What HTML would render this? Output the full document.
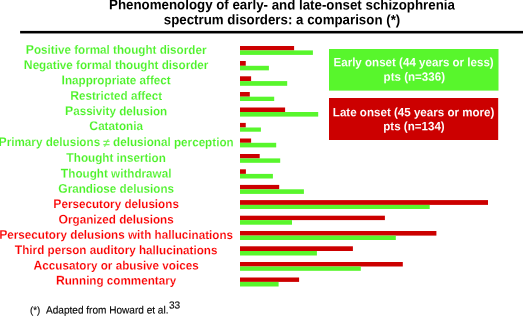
<!DOCTYPE html>
<html><head><meta charset="utf-8"><style>
html,body{margin:0;padding:0;background:#fff;}
body{width:523px;height:316px;overflow:hidden;position:relative;}
svg{position:absolute;left:0;top:0;display:block;}
text{font-family:"Liberation Sans",Arial,sans-serif;text-rendering:geometricPrecision;}
.t{font-weight:bold;font-size:13.3px;fill:#000;}
.l{font-weight:bold;font-size:11.68px;stroke:#fff;stroke-width:0.14px;}
.cap{font-size:12.2px;}
.lg{fill:#4af226;}
.lr{fill:#fa0000;}
.ne{stroke:none;fill-opacity:0.75;}
.k{font-weight:bold;font-size:11.58px;fill:#fff;stroke-width:0.04px;}
.kg{stroke:#58f62c;}
.kr{stroke:#cc0000;}
.f{font-size:10.07px;fill:#000;stroke:#000;stroke-width:0.12px;}
</style></head><body>
<svg width="523" height="316" viewBox="0 0 523 316">

<text class="t" transform="translate(282 9.40) skewY(0.05) scale(1 1.045)" text-anchor="middle">Phenomenology of early- and late-onset schizophrenia</text>
<text class="t" transform="translate(282 24.30) skewY(0.05) scale(1 1.04)" text-anchor="middle">spectrum disorders: a comparison (*)</text>
<rect x="20.1" y="30.9" width="503" height="2.2" fill="#000"/>
<rect x="20.1" y="33.1" width="503" height="0.8" fill="#777"/>
<rect x="240" y="46.00" width="54.10" height="4.40" fill="#cc0000"/>
<rect x="240" y="50.40" width="72.90" height="4.50" fill="#58f62c"/>
<text class="l lg" transform="translate(116.1 53.82) skewY(0.05) scale(1 1.035)" text-anchor="middle"><tspan class="cap">P</tspan>ositive formal thought disorder</text>
<rect x="240" y="61.00" width="5.75" height="4.80" fill="#cc0000"/>
<rect x="240" y="65.80" width="28.90" height="4.55" fill="#58f62c"/>
<text class="l lg" transform="translate(116.1 69.04) skewY(0.05) scale(1 1.035)" text-anchor="middle"><tspan class="cap">N</tspan>egative formal thought disorder</text>
<rect x="240" y="76.30" width="11.10" height="4.80" fill="#cc0000"/>
<rect x="240" y="81.10" width="47.20" height="4.70" fill="#58f62c"/>
<text class="l lg" transform="translate(116.1 84.19) skewY(0.05) scale(1 1.035)" text-anchor="middle"><tspan class="cap">I</tspan>nappropriate affect</text>
<rect x="240" y="92.00" width="9.80" height="4.70" fill="#cc0000"/>
<rect x="240" y="96.70" width="34.20" height="4.30" fill="#58f62c"/>
<text class="l lg" transform="translate(116.1 99.84) skewY(0.05) scale(1 1.035)" text-anchor="middle"><tspan class="cap">R</tspan>estricted affect</text>
<rect x="240" y="107.50" width="45.10" height="4.50" fill="#cc0000"/>
<rect x="240" y="112.00" width="78.20" height="4.60" fill="#58f62c"/>
<text class="l lg" transform="translate(116.1 115.13) skewY(0.05) scale(1 1.035)" text-anchor="middle"><tspan class="cap">P</tspan>assivity delusion</text>
<rect x="240" y="122.90" width="5.75" height="4.60" fill="#cc0000"/>
<rect x="240" y="127.50" width="20.90" height="4.20" fill="#58f62c"/>
<text class="l lg" transform="translate(116.1 130.10) skewY(0.05) scale(1 1.035)" text-anchor="middle"><tspan class="cap">C</tspan>atatonia</text>
<rect x="240" y="138.50" width="11.10" height="4.30" fill="#cc0000"/>
<rect x="240" y="142.80" width="36.20" height="4.60" fill="#58f62c"/>
<text class="l lg" transform="translate(116.1 146.08) skewY(0.05) scale(1 1.035)" text-anchor="middle"><tspan class="cap">P</tspan>rimary delusions <tspan class="ne" dy="1">≠</tspan><tspan dy="-1"> delusional perception</tspan></text>
<rect x="240" y="154.00" width="19.70" height="4.40" fill="#cc0000"/>
<rect x="240" y="158.40" width="40.20" height="4.40" fill="#58f62c"/>
<text class="l lg" transform="translate(116.1 161.85) skewY(0.05) scale(1 1.035)" text-anchor="middle"><tspan class="cap">T</tspan>hought insertion</text>
<rect x="240" y="169.30" width="5.90" height="4.60" fill="#cc0000"/>
<rect x="240" y="173.90" width="32.90" height="4.60" fill="#58f62c"/>
<text class="l lg" transform="translate(116.1 177.49) skewY(0.05) scale(1 1.035)" text-anchor="middle"><tspan class="cap">T</tspan>hought withdrawal</text>
<rect x="240" y="184.90" width="39.20" height="4.40" fill="#cc0000"/>
<rect x="240" y="189.30" width="63.90" height="4.60" fill="#58f62c"/>
<text class="l lg" transform="translate(116.1 192.79) skewY(0.05) scale(1 1.035)" text-anchor="middle"><tspan class="cap">G</tspan>randiose delusions</text>
<rect x="240" y="200.10" width="248.00" height="4.80" fill="#cc0000"/>
<rect x="240" y="204.90" width="189.70" height="4.10" fill="#58f62c"/>
<text class="l lr" transform="translate(116.1 208.04) skewY(0.05) scale(1 1.035)" text-anchor="middle"><tspan class="cap">P</tspan>ersecutory delusions</text>
<rect x="240" y="215.70" width="144.90" height="4.40" fill="#cc0000"/>
<rect x="240" y="220.10" width="52.00" height="4.60" fill="#58f62c"/>
<text class="l lr" transform="translate(116.1 223.58) skewY(0.05) scale(1 1.035)" text-anchor="middle"><tspan class="cap">O</tspan>rganized delusions</text>
<rect x="240" y="231.00" width="196.40" height="4.60" fill="#cc0000"/>
<rect x="240" y="235.60" width="155.80" height="4.40" fill="#58f62c"/>
<text class="l lr" transform="translate(116.1 238.81) skewY(0.05) scale(1 1.035)" text-anchor="middle"><tspan class="cap">P</tspan>ersecutory delusions with hallucinations</text>
<rect x="240" y="246.30" width="112.90" height="4.70" fill="#cc0000"/>
<rect x="240" y="251.00" width="76.90" height="4.50" fill="#58f62c"/>
<text class="l lr" transform="translate(116.1 254.10) skewY(0.05) scale(1 1.035)" text-anchor="middle"><tspan class="cap">T</tspan>hird person auditory hallucinations</text>
<rect x="240" y="262.00" width="162.80" height="4.50" fill="#cc0000"/>
<rect x="240" y="266.50" width="120.80" height="4.30" fill="#58f62c"/>
<text class="l lr" transform="translate(116.1 269.45) skewY(0.05) scale(1 1.035)" text-anchor="middle"><tspan class="cap">A</tspan>ccusatory or abusive voices</text>
<rect x="240" y="277.50" width="59.10" height="4.40" fill="#cc0000"/>
<rect x="240" y="281.90" width="38.60" height="4.60" fill="#58f62c"/>
<text class="l lr" transform="translate(116.1 284.50) skewY(0.05) scale(1 1.035)" text-anchor="middle"><tspan class="cap">R</tspan>unning commentary</text>
<rect x="329" y="49" width="169.5" height="41.6" fill="#58f62c"/>
<rect x="329" y="98" width="169.2" height="42" fill="#cc0000"/>
<text class="k kg" transform="translate(413.6 66.30) skewY(0.05) scale(1 1.04)" text-anchor="middle">Early onset (44 years or less)</text>
<text class="k kg" transform="translate(414.3 80.70) skewY(0.05) scale(1 1.04)" text-anchor="middle">pts (n=336)</text>
<text class="k kr" transform="translate(413.6 116.30) skewY(0.05) scale(1 1.04)" text-anchor="middle">Late onset (45 years or more)</text>
<text class="k kr" transform="translate(414.0 130.20) skewY(0.05) scale(1 1.04)" text-anchor="middle">pts (n=134)</text>
<text class="f" transform="translate(29.9 313.50) skewY(0.05) scale(1 1.04)" text-anchor="start" style="font-size:9.7px">(*)</text>
<text class="f" transform="translate(46.0 313.50) skewY(0.05) scale(1 1.04)" text-anchor="start">Adapted from Howard et al.</text>
<text class="f" transform="translate(168.9 308.60) skewY(0.05) scale(1 1.0)" text-anchor="start" style="font-size:10.2px">33</text>
</svg></body></html>
